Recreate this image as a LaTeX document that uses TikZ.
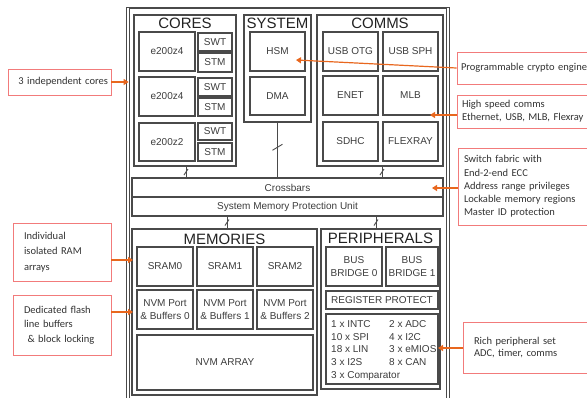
\documentclass[tikz,border=0pt]{standalone}
\usepackage{fontspec}
\setmainfont{Liberation Sans}
\newfontfamily\callfont{Carlito}
\usetikzlibrary{arrows.meta,calc}
\definecolor{boxline}{HTML}{4A4A4A}
\definecolor{txt}{HTML}{3C3C3C}
\definecolor{ttlc}{HTML}{222222}
\definecolor{callb}{HTML}{F27B7B}
\definecolor{ctxt}{HTML}{333333}
\definecolor{arr}{HTML}{E8671E}
\tikzset{
  blk/.style={draw=boxline, line width=1.1pt, inner sep=0pt, align=center,
    font=\fontsize{10}{13}\selectfont, text=txt},
  grp/.style={draw=boxline, line width=1.1pt, inner sep=0pt},
  frame/.style={draw=boxline, line width=0.8pt, inner sep=0pt},
  ttl/.style={font=\fontsize{15}{15}\selectfont, text=ttlc, inner sep=0pt},
  callout/.style={draw=callb, line width=0.9pt, fill=white, inner ysep=0pt,
    font=\callfont\fontsize{10.5}{13.5}\selectfont, text=ctxt, align=left},
  oarrow/.style={draw=arr, line width=1.2pt, -{Triangle[length=5pt,width=6pt]}},
  bus/.style={draw=boxline, line width=0.9pt},
}
\begin{document}
\begin{tikzpicture}[x=1pt,y=-1pt]
\useasboundingbox (0,0) rectangle (587,397);
\clip (0,0) rectangle (587,397);
% outer frame (double line)
\node[frame, minimum width=322.5pt, minimum height=404pt] (outer) at (287.75,209.5) {};
\node[frame, minimum width=317.5pt, minimum height=402pt] (outerin) at (287.75,209.5) {};
% CORES
\node[grp, minimum width=102pt, minimum height=151pt] (cores) at (185,90.5) {};
\node[ttl] (corest) at (185,23.8) {CORES};
\node[blk, minimum width=56pt, minimum height=39pt] (c1) at (167,51.5) {e200z4};
\node[blk, minimum width=56pt, minimum height=39pt] (c2) at (167,96.5) {e200z4};
\node[blk, minimum width=56pt, minimum height=38pt] (c3) at (167,142) {e200z2};
\node[blk, minimum width=34pt, minimum height=18pt] (swt1) at (215,42) {SWT};
\node[blk, minimum width=34pt, minimum height=19pt] (stm1) at (215,62.5) {STM};
\node[blk, minimum width=34pt, minimum height=18pt] (swt2) at (215,87) {SWT};
\node[blk, minimum width=34pt, minimum height=18pt] (stm2) at (215,107) {STM};
\node[blk, minimum width=34pt, minimum height=17pt] (swt3) at (215,131.5) {SWT};
\node[blk, minimum width=34pt, minimum height=18pt] (stm3) at (215,152) {STM};
% SYSTEM
\node[grp, minimum width=67pt, minimum height=107pt] (sys) at (277.5,68.5) {};
\node[ttl] (syst) at (277.5,23.8) {SYSTEM};
\node[blk, minimum width=55pt, minimum height=39pt] (hsm) at (277.5,51.5) {HSM};
\node[blk, minimum width=55pt, minimum height=38pt] (dma) at (277.5,96) {DMA};
% COMMS
\node[grp, minimum width=126pt, minimum height=151pt] (comms) at (380,90.5) {};
\node[ttl] (commst) at (380,23.8) {COMMS};
\node[blk, minimum width=55pt, minimum height=39pt] (usbotg) at (350.5,51.5) {USB OTG};
\node[blk, minimum width=55pt, minimum height=39pt] (usbsph) at (410.5,51.5) {USB SPH};
\node[blk, minimum width=55pt, minimum height=39pt] (enet) at (350.5,95.5) {ENET};
\node[blk, minimum width=55pt, minimum height=39pt] (mlb) at (410.5,95.5) {MLB};
\node[blk, minimum width=55pt, minimum height=39pt] (sdhc) at (350.5,141.5) {SDHC};
\node[blk, minimum width=55pt, minimum height=39pt] (flexray) at (410.5,141.5) {FLEXRAY};
% Crossbars
\node[blk, minimum width=311pt, minimum height=19pt] (xbar) at (287.5,187.5) {Crossbars};
\node[blk, minimum width=311pt, minimum height=19pt] (smpu) at (287.5,206.5) {System Memory Protection Unit};
% MEMORIES
\node[grp, minimum width=185pt, minimum height=166pt] (mem) at (224.5,312) {};
\node[ttl] (memt) at (224.5,239) {MEMORIES};
\node[blk, minimum width=56pt, minimum height=39pt] (sram0) at (165,266.5) {SRAM0};
\node[blk, minimum width=56pt, minimum height=39pt] (sram1) at (225,266.5) {SRAM1};
\node[blk, minimum width=56pt, minimum height=39pt] (sram2) at (285,266.5) {SRAM2};
\node[blk, minimum width=56pt, minimum height=39pt] (nvm0) at (165,309.5) {NVM Port\\\& Buffers 0};
\node[blk, minimum width=56pt, minimum height=39pt] (nvm1) at (225,309.5) {NVM Port\\\& Buffers 1};
\node[blk, minimum width=56pt, minimum height=39pt] (nvm2) at (285,309.5) {NVM Port\\\& Buffers 2};
\node[blk, minimum width=176pt, minimum height=55pt] (nvmarr) at (225,362.5) {NVM ARRAY};
% PERIPHERALS
\node[grp, minimum width=119pt, minimum height=160pt] (per) at (380.5,309) {};
\node[ttl] (pert) at (380.5,238) {PERIPHERALS};
\node[blk, minimum width=56pt, minimum height=39pt, font=\fontsize{10}{12.5}\selectfont] (bb0) at (354,266.5) {BUS\\BRIDGE 0};
\node[blk, minimum width=52pt, minimum height=39pt, font=\fontsize{10}{12.5}\selectfont] (bb1) at (412,266.5) {BUS\\BRIDGE 1};
\node[blk, minimum width=112pt, minimum height=18pt] (regp) at (382,300) {REGISTER PROTECT};
\node[blk, minimum width=112pt, minimum height=70pt] (plist) at (382,349) {};
\node[anchor=north west, inner sep=0pt, align=left, text=txt,
  font=\fontsize{10}{12.65}\selectfont] (plistt) at (331,320.5)
  {\makebox[58pt][l]{1 x INTC}2 x ADC\\
   \makebox[58pt][l]{10 x SPI}4 x I2C\\
   \makebox[58pt][l]{18 x LIN}3 x eMIOS\\
   \makebox[58pt][l]{3 x I2S}8 x CAN\\
   3 x Comparator};
% bus connectors
\draw[bus] ($(cores.south)+(1,0)$) -- coordinate[pos=.5](s1) ($(cores.south |- xbar.north)+(1,0)$);
\draw[bus] ($(s1)+(-2,3)$) -- ($(s1)+(2,-3)$);
\draw[bus] (sys.south) -- coordinate[pos=.45](s2) (sys.south |- xbar.north);
\draw[bus] ($(s2)+(-5,3)$) -- ($(s2)+(5,-3)$);
\draw[bus] ($(comms.south)+(2,0)$) -- coordinate[pos=.5](s3) ($(comms.south |- xbar.north)+(2,0)$);
\draw[bus] ($(s3)+(-2,3)$) -- ($(s3)+(2,-3)$);
\draw[bus] ($(mem.north |- smpu.south)+(2.5,0)$) -- coordinate[pos=.5](s4) ($(mem.north)+(2.5,0)$);
\draw[bus] ($(s4)+(-2,3)$) -- ($(s4)+(2,-3)$);
\draw[bus] ($(per.north |- smpu.south)+(-4.5,0)$) -- coordinate[pos=.5](s5) ($(per.north)+(-4.5,0)$);
\draw[bus] ($(s5)+(-2,3)$) -- ($(s5)+(2,-3)$);
% callouts
\node[callout, minimum width=103pt, minimum height=26pt, text width=97pt, inner xsep=3pt, align=right] (ccores) at (59.5,82) {3 independent cores};
\node[callout, minimum width=143pt, minimum height=32pt, text width=135pt, inner xsep=4pt] (ccrypto) at (528.5,68) {Programmable crypto engine};
\node[callout, minimum width=143pt, minimum height=33pt, text width=133pt, inner xsep=5pt, font=\callfont\fontsize{10.5}{13}\selectfont] (ccomms) at (528.5,111.5) {High speed comms\\Ethernet, USB, MLB, Flexray};
\node[callout, minimum width=142pt, minimum height=77pt, text width=130pt, inner xsep=6pt, font=\callfont\fontsize{10.5}{13.2}\selectfont] (cswitch) at (529,186.5) {Switch fabric with\\End-2-end ECC\\Address range privileges\\Lockable memory regions\\Master ID protection};
\node[callout, minimum width=98pt, minimum height=58pt, text width=76pt, inner xsep=11pt, font=\callfont\fontsize{10.5}{15.5}\selectfont] (cram) at (62,252) {Individual\\isolated RAM\\arrays};
\node[callout, minimum width=98pt, minimum height=60pt, text width=76pt, inner xsep=11pt, font=\callfont\fontsize{10.5}{14.5}\selectfont] (cflash) at (62,325) {Dedicated flash\\line buffers\\\ \& block locking};
\node[callout, minimum width=137pt, minimum height=51pt, text width=115pt, inner xsep=11pt, font=\callfont\fontsize{10.5}{12.5}\selectfont] (crich) at (531.5,347.5) {Rich peripheral set\\ADC, timer, comms};
% arrow tips
\coordinate (hsmtip) at (296,60);
\coordinate (mlbtip) at (430,115);
\coordinate (xbartip) at (432,188);
\coordinate (ramtip) at (133,260);
\coordinate (flashtip) at (133,312);
\coordinate (richtip) at (438,348);
\draw[oarrow] (ccores.east) -- (ccores.east -| outerin.west);
\draw[oarrow] (ccrypto.west) -- (hsmtip);
\draw[oarrow] (ccomms.west |- mlbtip) -- (mlbtip);
\draw[oarrow] (cswitch.west |- xbartip) -- (xbartip);
\draw[oarrow] (cram.east |- ramtip) -- (ramtip);
\draw[oarrow] (cflash.east |- flashtip) -- (flashtip);
\draw[oarrow] (crich.west |- richtip) -- (richtip);
\end{tikzpicture}
\end{document}
